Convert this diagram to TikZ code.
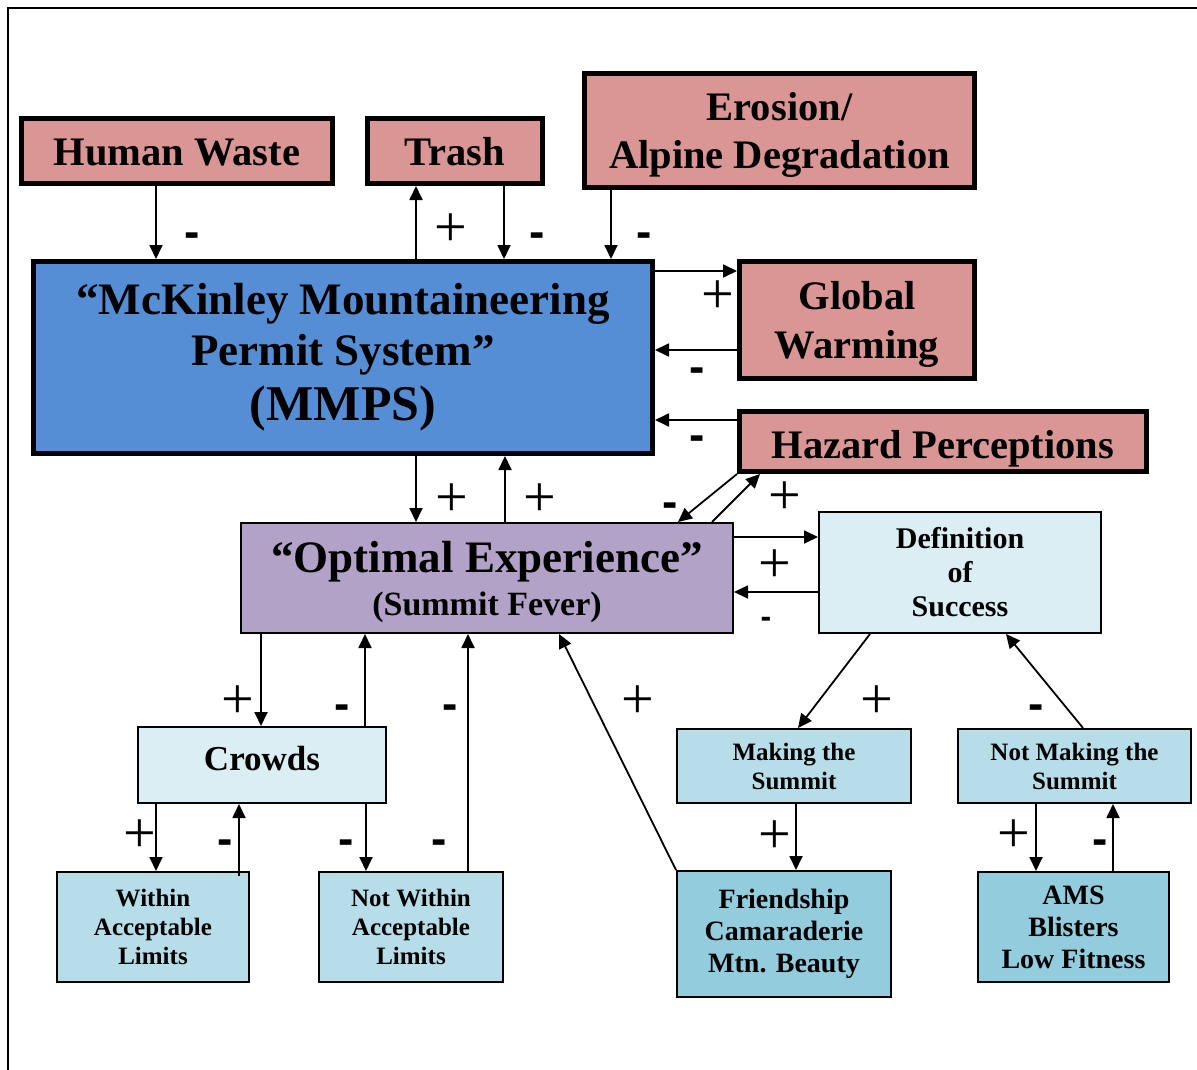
\documentclass[tikz,border=0pt]{standalone}
\usepackage{fontspec}
\setmainfont{Liberation Serif}
\newfontfamily\labfont{Liberation Sans}
\usetikzlibrary{arrows.meta}
\definecolor{redf}{HTML}{D99694}
\definecolor{bluef}{HTML}{558ED5}
\definecolor{purpf}{HTML}{B3A2C7}
\definecolor{lightf}{HTML}{DBEEF4}
\definecolor{midf}{HTML}{B7DEE8}
\definecolor{darkf}{HTML}{93CDDD}
\begin{document}
\begin{tikzpicture}[x=1pt,y=-1pt,
  basebox/.style={draw=black, inner sep=0pt, align=center, text=black},
  rbox/.style={basebox, fill=redf, line width=5pt, font=\bfseries\fontsize{40.5}{48.5}\selectfont},
  bbox/.style={basebox, fill=bluef, line width=5pt, font=\bfseries\fontsize{45}{51}\selectfont},
  pbox/.style={basebox, fill=purpf, line width=2pt, font=\bfseries\fontsize{45}{51}\selectfont},
  lbox/.style={basebox, fill=lightf, line width=2pt},
  mbox/.style={basebox, fill=midf, line width=2pt, font=\bfseries\fontsize{25}{29}\selectfont},
  dbox/.style={basebox, fill=darkf, line width=2pt, font=\bfseries\fontsize{28}{32}\selectfont},
  arr/.style={line width=1.8pt, -{Triangle[length=14pt,width=13pt]}},
  plus/.style={inner sep=0pt, font=\fontsize{58}{58}\selectfont},
  minus/.style={inner sep=0pt, anchor=base, font=\labfont\bfseries\fontsize{46}{46}\selectfont},
  sminus/.style={inner sep=0pt, anchor=base, font=\labfont\bfseries\fontsize{32}{32}\selectfont}
]
\useasboundingbox (0,0) rectangle (1197,1070);
\fill[white] (0,0) rectangle (1197,1070);
\draw[line width=2pt] (8,1070) -- (8,8) -- (1197,8);

% boxes
\node[rbox, minimum width=311, minimum height=65, text depth=0pt, text height=29pt] (hw) at (177,151) {Human Waste};
\node[rbox, minimum width=175, minimum height=65, text depth=0pt, text height=29pt] (tr) at (455,151) {Trash};
\node[rbox, minimum width=390, minimum height=114, text depth=0pt] (er) at (779.5,130.5) {Erosion/\\Alpine Degradation};
\node[bbox, minimum width=619, minimum height=192] (mm) at (343,357.5)
  {“McKinley Mountaineering\\Permit System”\\[4pt]{\fontsize{50}{58}\selectfont (MMPS)}};
\node[rbox, minimum width=235, minimum height=117, text depth=0pt] (gw) at (857,320) {Global\\Warming};
\node[rbox, minimum width=407, minimum height=60, text depth=0pt, text height=33pt] (hz) at (943,441.5) {Hazard Perceptions};
\node[pbox, minimum width=492, minimum height=110, text depth=0pt] (oe) at (487,578)
  {“Optimal Experience”\\[-8pt]{\fontsize{34}{40}\selectfont (Summit Fever)}};
\node[lbox, minimum width=282, minimum height=121, font=\bfseries\fontsize{30}{34}\selectfont] (df) at (960,572.5) {Definition\\of\\Success};
\node[lbox, minimum width=248, minimum height=76, text depth=14pt, font=\bfseries\fontsize{35}{40}\selectfont] (cr) at (262,765) {Crowds};
\node[mbox, minimum width=192, minimum height=110] (wi) at (153,927) {Within\\Acceptable\\Limits};
\node[mbox, minimum width=184, minimum height=110] (nw) at (411,927) {Not Within\\Acceptable\\Limits};
\node[mbox, minimum width=234, minimum height=74] (mk) at (794,766) {Making the\\Summit};
\node[mbox, minimum width=233, minimum height=74] (nm) at (1074.5,766) {Not Making the\\Summit};
\node[dbox, minimum width=214, minimum height=126] (fr) at (784,934) {Friendship\\Camaraderie\\Mtn. Beauty};
\node[dbox, minimum width=191, minimum height=110] (am) at (1073.5,927) {AMS\\Blisters\\Low Fitness};

% connectors
\draw[arr] ([xshift=-21]hw.south) -- ([xshift=-21]hw.south |- mm.north);
\draw[arr] ([xshift=73]mm.north) -- ([xshift=73]mm.north |- tr.south);
\draw[arr] ([xshift=49]tr.south) -- ([xshift=49]tr.south |- mm.north);
\draw[arr] ([xshift=-168.5]er.south) -- ([xshift=-168.5]er.south |- mm.north);
\draw[arr] ([yshift=86.5]mm.east) -- ([yshift=86.5]mm.east -| gw.west);
\draw[arr] ([yshift=-30]gw.west) -- ([yshift=-30]gw.west -| mm.east);
\draw[arr] ([yshift=21.5]hz.west) -- ([yshift=21.5]hz.west -| mm.east);
\draw[arr] (hz.south west) -- ([xshift=191]oe.north);
\draw[arr] ([xshift=225]oe.north) -- ([xshift=23]hz.south west);
\draw[arr] ([xshift=73]mm.south) -- ([xshift=73]mm.south |- oe.north);
\draw[arr] ([xshift=18]oe.north) -- ([xshift=18]oe.north |- mm.south);
\draw[arr] ([yshift=41]oe.east) -- ([yshift=41]oe.east -| df.west);
\draw[arr] ([yshift=-14]oe.east -| df.west) -- ([yshift=-14]oe.east);
\draw[arr] ([xshift=-226]oe.south) -- ([xshift=-226]oe.south |- cr.north);
\draw[arr] ([xshift=103]cr.north) -- ([xshift=103]cr.north |- oe.south);
\draw[arr] ([xshift=57]nw.north) -- ([xshift=57]nw.north |- oe.south);
\draw[arr] (fr.north west) -- ([xshift=72]oe.south);
\draw[arr] ([xshift=-90]df.south) -- ([xshift=4]mk.north);
\draw[arr] ([xshift=8.5]nm.north) -- ([xshift=46]df.south);
\draw[arr] ([xshift=-106]cr.south) -- ([xshift=-106]cr.south |- wi.north);
\draw[arr] ([xshift=86,yshift=-5]wi.north) -- ([xshift=86]wi.north |- cr.south);
\draw[arr] ([xshift=104]cr.south) -- ([xshift=104]cr.south |- nw.north);
\draw[arr] ([xshift=2]mk.south) -- ([xshift=2]mk.south |- fr.north);
\draw[arr] ([xshift=-38.5]nm.south) -- ([xshift=-38.5]nm.south |- am.north);
\draw[arr] ([xshift=39.5]am.north) -- ([xshift=39.5]am.north |- nm.south);

% labels
\node[minus] (l1) at (192,247) {-};
\node[plus] (l2) at (451,230) {+};
\node[minus] (l3) at (537,247) {-};
\node[minus] (l4) at (644,247) {-};
\node[plus] (l5) at (718,297) {+};
\node[minus] (l6) at (697,382) {-};
\node[minus] (l7) at (697,450) {-};
\node[minus] (l8) at (670,517) {-};
\node[plus] (l9) at (785,498) {+};
\node[plus] (l10) at (452,500) {+};
\node[plus] (l11) at (540,500) {+};
\node[plus] (l12) at (775,566) {+};
\node[sminus] (l13) at (766,627) {-};
\node[plus] (l14) at (238,702) {+};
\node[minus] (l15) at (342,719) {-};
\node[minus] (l16) at (450,719) {-};
\node[plus] (l17) at (638,702) {+};
\node[plus] (l18) at (877,702) {+};
\node[minus] (l19) at (1036,719) {-};
\node[plus] (l20) at (140,836) {+};
\node[minus] (l21) at (225,854) {-};
\node[minus] (l22) at (346,854) {-};
\node[minus] (l23) at (439,854) {-};
\node[plus] (l24) at (775,837) {+};
\node[plus] (l25) at (1014,836) {+};
\node[minus] (l26) at (1100,854) {-};
\end{tikzpicture}
\end{document}
